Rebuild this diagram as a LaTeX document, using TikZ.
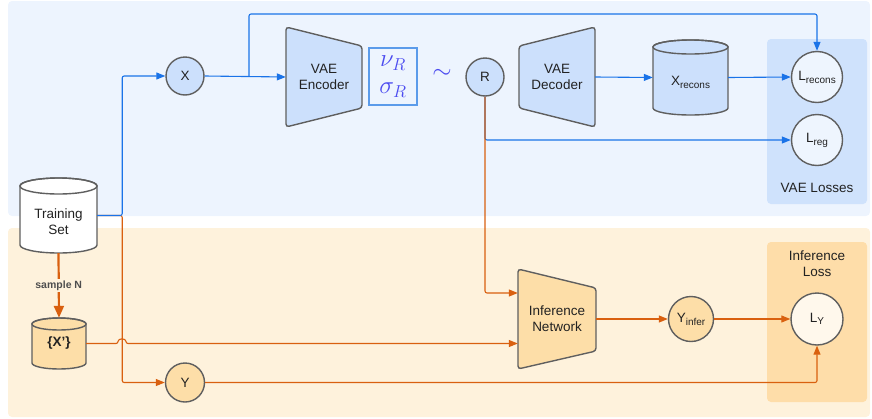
\documentclass[tikz,border=0pt]{standalone}
\usepackage{fontspec}
\setmainfont{Liberation Sans}
\usetikzlibrary{arrows.meta}
\definecolor{bluebg}{HTML}{EDF4FE}
\definecolor{orbg}{HTML}{FEF2DC}
\definecolor{bluebox}{HTML}{CFE2FC}
\definecolor{orbox}{HTML}{FEDDA9}
\definecolor{bluefill}{HTML}{CCE0FC}
\definecolor{orfill}{HTML}{FDDEA8}
\definecolor{lightfill}{HTML}{EEF5FE}
\definecolor{lightor}{HTML}{FFF8EC}
\definecolor{strokec}{HTML}{5F5F5F}
\definecolor{bline}{HTML}{1A73E8}
\definecolor{oline}{HTML}{D9600F}
\definecolor{mathc}{HTML}{4B4BF0}
\definecolor{mathbox}{HTML}{5B9BEA}
\definecolor{txt}{HTML}{222222}
\begin{document}
\begin{tikzpicture}[x=1pt,y=-1pt,
  font=\fontsize{13.5}{16}\selectfont, text=txt,
  shp/.style={draw=strokec, line width=1.4pt, rounded corners=3pt},
  cylst/.style={draw=strokec, line width=1.4pt},
  anch/.style={inner sep=0pt, minimum width=#1, align=center},
  circ/.style={circle, draw=strokec, line width=1.4pt, inner sep=0pt, minimum size=#1},
  barr/.style={draw=bline, line width=1.1pt, rounded corners=2pt, -{Triangle[length=9pt,width=7pt]}},
  oarr/.style={draw=oline, line width=1.1pt, rounded corners=2pt, -{Triangle[length=9pt,width=7pt]}}]
\useasboundingbox (0,0) rectangle (872,418);
% backgrounds
\fill[bluebg, rounded corners=4pt] (8,1) rectangle (870,216);
\fill[orbg, rounded corners=4pt] (8,228) rectangle (870,417);
\fill[bluebox, rounded corners=4pt] (767,39) rectangle (867,204);
\fill[orbox, rounded corners=4pt] (767,242) rectangle (867,402);
\node at (817,188) {VAE Losses};
\node[align=center] at (817,264) {Inference\\Loss};
% trapezoids
\filldraw[shp, fill=bluefill] (286,27) -- (362,46) -- (362,108) -- (286,127) -- cycle;
\filldraw[shp, fill=bluefill] (519,46) -- (595,27) -- (595,127) -- (519,108) -- cycle;
\filldraw[shp, fill=orfill] (518,269) -- (596,288) -- (596,351) -- (518,369) -- cycle;
% cylinders
\filldraw[cylst, fill=white] (20,186) -- (20,245) arc[start angle=180,end angle=360,x radius=38.5pt,y radius=8pt] -- (97,186) arc[start angle=0,end angle=180,x radius=38.5pt,y radius=8pt] -- cycle;
\draw[cylst] (58.5,186) ellipse[x radius=38.5pt,y radius=8pt];
\filldraw[cylst, fill=orfill] (32,324) -- (32,363) arc[start angle=180,end angle=360,x radius=27pt,y radius=6pt] -- (86,324) arc[start angle=0,end angle=180,x radius=27pt,y radius=6pt] -- cycle;
\draw[cylst] (59,324) ellipse[x radius=27pt,y radius=6pt];
\filldraw[cylst, fill=bluefill] (653,47) -- (653,108) arc[start angle=180,end angle=360,x radius=37.5pt,y radius=7pt] -- (728,47) arc[start angle=0,end angle=180,x radius=37.5pt,y radius=7pt] -- cycle;
\draw[cylst] (690.5,47) ellipse[x radius=37.5pt,y radius=7pt];
% nodes
\node[anch=77pt, minimum height=75pt] (ts) at (58.5,215.5) {};
\node[align=center] (tslbl) at (58.5,222) {Training\\Set};
\node[anch=54pt, minimum height=51pt, font=\fontsize{13.5}{16}\selectfont\bfseries] (xp) at (59,343.5) {\{X'\}};
\node[anch=75pt, minimum height=75pt] (xr) at (690.5,77.5) {};
\node (xrlbl) at (690.5,82) {X\raisebox{-3pt}{\fontsize{10}{10}\selectfont recons}};
\node[anch=76pt, minimum height=100pt] (enc) at (324,77) {VAE\\Encoder};
\node[anch=76pt, minimum height=100pt] (dec) at (557,77) {VAE\\Decoder};
\node[anch=78pt, minimum height=100pt] (inf) at (557,319) {Inference\\Network};
\node[draw=mathbox, line width=1.2pt, minimum width=48pt, minimum height=57pt, inner sep=0pt, align=center, text=mathc, font=\fontsize{23}{26}\selectfont] (mv) at (393,76.5) {$\nu_R$\\[1pt]$\sigma_R$};
\node[text=mathc, font=\fontsize{26}{26}\selectfont] (tl) at (442,74) {$\sim$};
\node[circ=38pt, fill=bluefill] (X) at (185,76) {X};
\node[circ=38pt, fill=bluefill] (R) at (485,77) {R};
\node[circ=51pt, fill=lightfill] (lrec) at (817,77) {L\raisebox{-3pt}{\fontsize{10}{10}\selectfont recons}};
\node[circ=51pt, fill=lightfill] (lreg) at (817,140) {L\raisebox{-3pt}{\fontsize{10}{10}\selectfont reg}};
\node[circ=39pt, fill=orfill] (Y) at (185,382.5) {Y};
\node[circ=45pt, fill=orfill] (yi) at (691,319) {Y\raisebox{-3pt}{\fontsize{10}{10}\selectfont infer}};
\node[circ=52pt, fill=lightor] (ly) at (817,319) {L\raisebox{-2pt}{\fontsize{10}{10}\selectfont Y}};
\coordinate (br) at (249,76);
\coordinate (topy) at (0,14);
% orange connectors
\draw[oarr] (ts.east) -- ++(25,0) |- (Y.west);
\draw[draw=oline, line width=2.2pt, -{Triangle[length=12pt,width=10pt]}] (ts.south) -- node[pos=0.5, fill=orbg, inner sep=1.5pt, text=txt!80, font=\fontsize{10.5}{12}\selectfont\bfseries] {sample N} (xp.north);
\draw[oarr] (xp.east) -- (118,343.5) .. controls (118,338) and (126,338) .. (126,343.5) -- (xp.east -| inf.west);
\draw[oarr] (inf.east) -- (yi.west);
\draw[oarr] (yi.east) -- (ly.west);
\draw[oarr] (Y.east) -| (ly.south);
% blue connectors
\draw[barr] (ts.east) -- ++(25,0) |- (X.west);
\draw[barr] (X.east) -- (enc.west);
\draw[barr] (br) -- (br |- topy) -| (lrec.north);
\draw[barr] (dec.east) -- (xr.west);
\draw[barr] (xr.east) -- (lrec.west);
\draw[barr] (R.south) |- (lreg.west);
\draw[oarr] (R.south) |- ([yshift=26pt]inf.west);
\end{tikzpicture}
\end{document}
